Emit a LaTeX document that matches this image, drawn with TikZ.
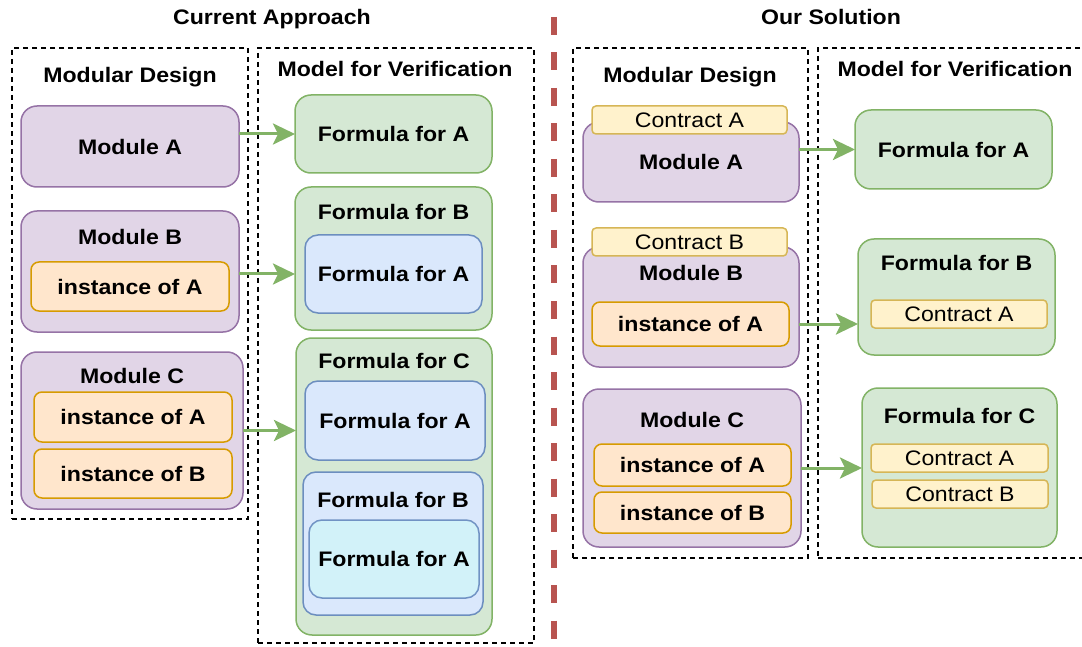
\documentclass[tikz,border=0pt]{standalone}
\usepackage{fontspec}
\setmainfont{Liberation Sans}[FakeStretch=1.1]
\usetikzlibrary{arrows.meta}
\definecolor{purF}{HTML}{E1D5E7}\definecolor{purD}{HTML}{9673A6}
\definecolor{grnF}{HTML}{D5E8D4}\definecolor{grnD}{HTML}{82B366}
\definecolor{bluF}{HTML}{DAE8FC}\definecolor{bluD}{HTML}{6C8EBF}
\definecolor{cyaF}{HTML}{D2F2F9}\definecolor{cyaD}{HTML}{7193C4}
\definecolor{insF}{HTML}{FFE6CC}\definecolor{insD}{HTML}{D79B00}
\definecolor{conF}{HTML}{FFF2CC}\definecolor{conD}{HTML}{D6B656}
\definecolor{arrC}{HTML}{82B366}\definecolor{redC}{HTML}{B85450}
\newcommand\boxat[7]{\node[#2, minimum width={(#5-#3)*1pt}, minimum height={(#6-#4)*1pt}] (#1) at ({(#3+#5)/2},{(#4+#6)/2}) {#7};}
\newcommand\txtat[4]{\node[#1, anchor=base, inner sep=0pt] (#2) at (#3) {#4};}
\begin{document}
\begin{tikzpicture}[x=1pt, y=-1pt,
  txtreg/.style={font=\fontsize{21}{25}\selectfont},
  txtbold/.style={font=\fontsize{21}{25}\selectfont\bfseries},
  shp/.style={draw, line width=1.5pt, inner sep=0pt, outer sep=0pt, align=center},
  purbox/.style={shp, fill=purF, draw=purD, rounded corners=16pt, txtbold},
  grnbox/.style={shp, fill=grnF, draw=grnD, rounded corners=16pt, txtbold},
  blubox/.style={shp, fill=bluF, draw=bluD, rounded corners=13pt, txtbold},
  cyabox/.style={shp, fill=cyaF, draw=cyaD, rounded corners=13pt, txtbold},
  insbox/.style={shp, fill=insF, draw=insD, rounded corners=8pt, txtbold},
  conbox/.style={shp, fill=conF, draw=conD, rounded corners=4pt, txtreg},
  frame/.style={draw, line width=1.5pt, dash pattern=on 5pt off 4pt, inner sep=0pt, outer sep=0pt},
  arr/.style={draw=arrC, line width=3pt, -{Stealth[length=22pt, width=21pt, inset=5pt]}},
  sep/.style={draw=redC, line width=6pt, dash pattern=on 18pt off 17.5pt}
]
\useasboundingbox (0,0) rectangle (1082,647);
\fill[white] (0,0) rectangle (1082,647);

% ---------------- left: current approach ----------------
\txtat{txtbold}{t1}{272,25}{Current Approach}
\boxat{md1}{frame}{12}{48}{248}{519}{}
\boxat{mv1}{frame}{258}{48}{534}{643}{}
\txtat{txtbold}{md1t}{130,83}{Modular Design}
\txtat{txtbold}{mv1t}{395,77}{Model for Verification}

\boxat{modA}{purbox}{21}{106}{239}{187}{Module A}
\boxat{modB}{purbox}{21}{211}{239}{332}{}
\txtat{txtbold}{modBt}{130,245}{Module B}
\boxat{insBA}{insbox}{31}{262}{229}{311}{instance of A}
\boxat{modC}{purbox}{21}{352}{243}{509}{}
\txtat{txtbold}{modCt}{132,383}{Module C}
\boxat{insCA}{insbox}{34}{392}{232}{442}{instance of A}
\boxat{insCB}{insbox}{34}{449}{232}{498}{instance of B}

\boxat{fA}{grnbox}{295}{95}{492}{173}{Formula for A}
\boxat{fB}{grnbox}{295}{187}{492}{330}{}
\txtat{txtbold}{fBt}{393.5,220}{Formula for B}
\boxat{fBA}{blubox}{305}{235}{482}{313}{Formula for A}
\boxat{fC}{grnbox}{296}{338}{492}{635}{}
\txtat{txtbold}{fCt}{394,368}{Formula for C}
\boxat{fCA}{blubox}{305}{381}{485}{460}{Formula for A}
\boxat{fCB}{blubox}{303}{472}{483}{615}{}
\txtat{txtbold}{fCBt}{393,507}{Formula for B}
\boxat{fCBA}{cyabox}{309}{520}{479}{598}{Formula for A}

\draw[arr] (fA.west -| modA.east) -- (fA.west);
\draw[arr] (fBA.west -| modB.east) -- (fBA.west -| fB.west);
\draw[arr] (modC.east) -- (modC.east -| fC.west);

% ---------------- separator ----------------
\coordinate (s1) at (554,17);
\coordinate (s2) at (554,647);
\draw[sep] (s1) -- (s2);

% ---------------- right: our solution ----------------
\txtat{txtbold}{t2}{831,25}{Our Solution}
\boxat{md2}{frame}{573}{48}{808}{558}{}
\boxat{mv2}{frame}{818}{48}{1090}{558}{}
\txtat{txtbold}{md2t}{690,83}{Modular Design}
\txtat{txtbold}{mv2t}{955,77}{Model for Verification}

\boxat{rmodA}{purbox}{583}{122}{799}{202}{}
\txtat{txtbold}{rmodAt}{691,170}{Module A}
\boxat{rconA}{conbox}{592}{106}{787}{134}{Contract A}
\boxat{rmodB}{purbox}{583}{247}{799}{367}{}
\txtat{txtbold}{rmodBt}{691,280}{Module B}
\boxat{rconB}{conbox}{592}{228}{787}{256}{Contract B}
\boxat{rinsBA}{insbox}{592}{302}{789}{346}{instance of A}
\boxat{rmodC}{purbox}{583}{389}{801}{547}{}
\txtat{txtbold}{rmodCt}{692,427}{Module C}
\boxat{rinsCA}{insbox}{594}{444}{791}{486}{instance of A}
\boxat{rinsCB}{insbox}{594}{492}{791}{533}{instance of B}

\boxat{rfA}{grnbox}{855}{110}{1052}{189}{Formula for A}
\boxat{rfB}{grnbox}{858}{239}{1055}{355}{}
\txtat{txtbold}{rfBt}{956.5,270}{Formula for B}
\boxat{rfBA}{conbox}{871}{300}{1047}{328}{Contract A}
\boxat{rfC}{grnbox}{862}{388}{1057}{547}{}
\txtat{txtbold}{rfCt}{959.5,423}{Formula for C}
\boxat{rfCA}{conbox}{871}{444}{1048}{472}{Contract A}
\boxat{rfCB}{conbox}{872}{480}{1048}{508}{Contract B}

\draw[arr] (rfA.west -| rmodA.east) -- (rfA.west);
\draw[arr] (rinsBA.east -| rmodB.east) -- (rinsBA.east -| rfB.west);
\draw[arr] (rmodC.east) -- (rmodC.east -| rfC.west);
\end{tikzpicture}
\end{document}
